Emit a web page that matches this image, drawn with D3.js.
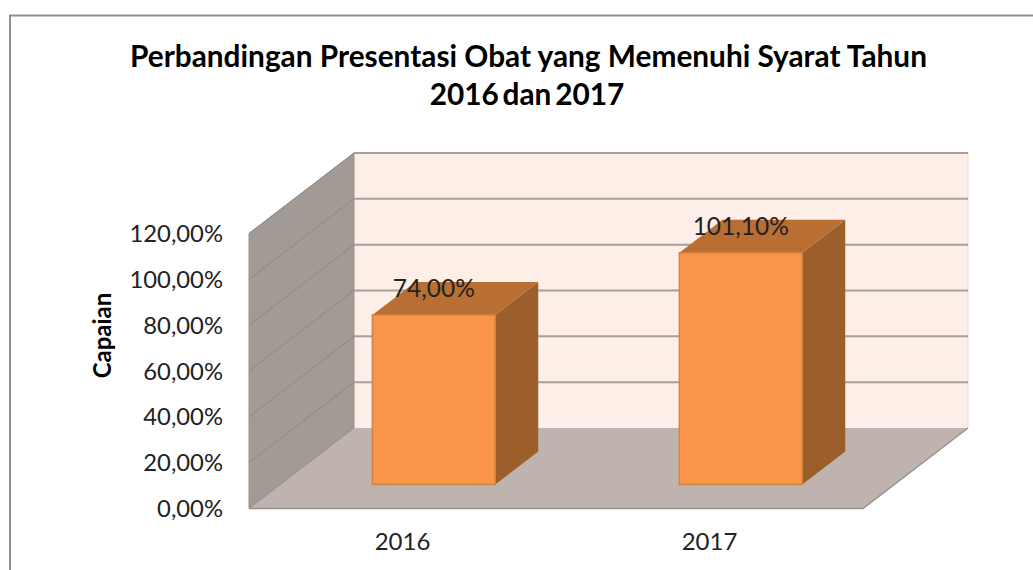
<!DOCTYPE html>
<html><head><meta charset="utf-8">
<script src="https://cdn.jsdelivr.net/npm/d3@7"></script>
<style>html,body{margin:0;padding:0;background:#fff;overflow:hidden}svg{display:block}text{font-family:Lato,"Open Sans",sans-serif}</style>
</head><body><svg id="c" width="1033" height="570"></svg>
<script>
const titleLines = ["Perbandingan Presentasi Obat yang Memenuhi Syarat Tahun", "2016 dan 2017"];
const yAxisTitle = "Capaian";
const categories = ["2016", "2017"];
const values = [74.0, 101.1];
const valueLabels = ["74,00%", "101,10%"];
const yTicks = [0, 20, 40, 60, 80, 100, 120];
const yTickLabels = ["0,00%", "20,00%", "40,00%", "60,00%", "80,00%", "100,00%", "120,00%"];

const svg = d3.select("#c");
const x = d3.scaleBand().domain(categories).range([249, 863]).paddingInner(0).paddingOuter(0);
const y = d3.scaleLinear().domain([0, 120]).range([508.5, 233.5]);
const dx = d3.scaleLinear().domain([0, 1]).range([0, 105]);
const dy = d3.scaleLinear().domain([0, 1]).range([0, -80.5]);
const P = (px, v, d) => [px + dx(d), y(v) + dy(d)];
const poly = pts => "M" + pts.map(p => p.join(",")).join("L") + "Z";
const barFrac = 0.4, dFront = 0.298, dBack = 0.708;

// outer frame
svg.append("path").attr("d", "M10,570V15.5H1033").attr("fill", "none").attr("stroke", "#8f8f8f").attr("stroke-width", 2);

const x0 = x.range()[0], x1 = x.range()[1];
// back wall
svg.append("path").attr("d", poly([P(x0,0,1),P(x1,0,1),P(x1,120,1),P(x0,120,1)])).attr("fill", "#fdeee7");
// side wall
svg.append("path").attr("d", poly([P(x0,0,0),P(x0,0,1),P(x0,120,1),P(x0,120,0)])).attr("fill", "#a29a95").attr("stroke", "#96918d").attr("stroke-width", 1);
// floor
svg.append("path").attr("d", poly([P(x0,0,0),P(x1,0,0),P(x1,0,1),P(x0,0,1)])).attr("fill", "#beb3af");
svg.append("path").attr("d", "M" + [P(x0,0,0),P(x1,0,0),P(x1,0,1)].map(p=>p.join(",")).join("L")).attr("fill","none").attr("stroke","#96918d").attr("stroke-width",1.5);
svg.append("path").attr("d", "M" + [P(x0,0,0),P(x0,0,1)].map(p=>p.join(",")).join("L")).attr("fill","none").attr("stroke","#96918d").attr("stroke-width",1);
svg.append("path").attr("d", "M" + [P(x1,0,1),P(x1,120,1)].map(p=>p.join(",")).join("L")).attr("fill","none").attr("stroke","#e6dcd6").attr("stroke-width",1);

// gridlines
yTicks.filter(t => t > 0).forEach(t => {
  svg.append("path").attr("d", "M" + [P(x0,t,0),P(x0,t,1)].map(p=>p.join(",")).join("L")).attr("fill","none").attr("stroke","#8d8985").attr("stroke-width",1);
  svg.append("path").attr("d", "M" + [P(x0,t,1),P(x1,t,1)].map(p=>p.join(",")).join("L")).attr("fill","none").attr("stroke","#a5a09c").attr("stroke-width",2);
});

// bars
categories.forEach((c, i) => {
  const mid = x(c) + x.bandwidth() / 2, w = x.bandwidth() * barFrac;
  const l = mid - w / 2, r = mid + w / 2, v = values[i];
  svg.append("path").attr("d", poly([P(r,0,dFront),P(r,0,dBack),P(r,v,dBack),P(r,v,dFront)])).attr("fill", "#9c5f2c");
  svg.append("path").attr("d", poly([P(l,v,dFront),P(r,v,dFront),P(r,v,dBack),P(l,v,dBack)])).attr("fill", "#b96f33");
  svg.append("path").attr("d", poly([P(l,0,dFront),P(r,0,dFront),P(r,v,dFront),P(l,v,dFront)])).attr("fill", "#f9944a").attr("stroke", "#d0843f").attr("stroke-width", 1.5);
  svg.append("text").attr("x", mid + dx(dFront)).attr("y", y(v) + dy(dFront) - 27).attr("dy", "0.36em")
    .attr("text-anchor", "middle").attr("font-size", 24.5).attr("fill", "#222").text(valueLabels[i]);
});

// y axis labels
const gy = svg.append("g").attr("transform", "translate(231,0.5)")
  .call(d3.axisLeft(y).tickValues(yTicks).tickSize(0).tickPadding(8).tickFormat((d, i) => yTickLabels[i]));
gy.select(".domain").remove();
gy.selectAll("text").attr("font-size", 23.8).attr("fill", "#222").style("font-family", "Lato,'Open Sans',sans-serif");

// x axis labels
const gx = svg.append("g").attr("transform", "translate(0,536.5)")
  .call(d3.axisBottom(x).tickSize(0).tickPadding(0));
gx.select(".domain").remove();
gx.selectAll("text").attr("font-size", 24).attr("fill", "#222").attr("dy", "0.55em").style("font-family", "Lato,'Open Sans',sans-serif");

// titles
svg.append("text").attr("x", 528.5).attr("y", 67).attr("text-anchor", "middle").attr("font-size", 29.8).attr("font-weight", 700).attr("fill", "#000").text(titleLines[0]);
svg.append("text").attr("x", 527).attr("y", 105).attr("text-anchor", "middle").attr("font-size", 29.8).attr("font-weight", 700).attr("word-spacing", -3.5).attr("fill", "#000").text(titleLines[1]);
svg.append("text").attr("transform", "translate(111,335.5) rotate(-90)").attr("text-anchor", "middle").attr("font-size", 24).attr("font-weight", 700).attr("fill", "#000").text(yAxisTitle);
</script></body></html>
